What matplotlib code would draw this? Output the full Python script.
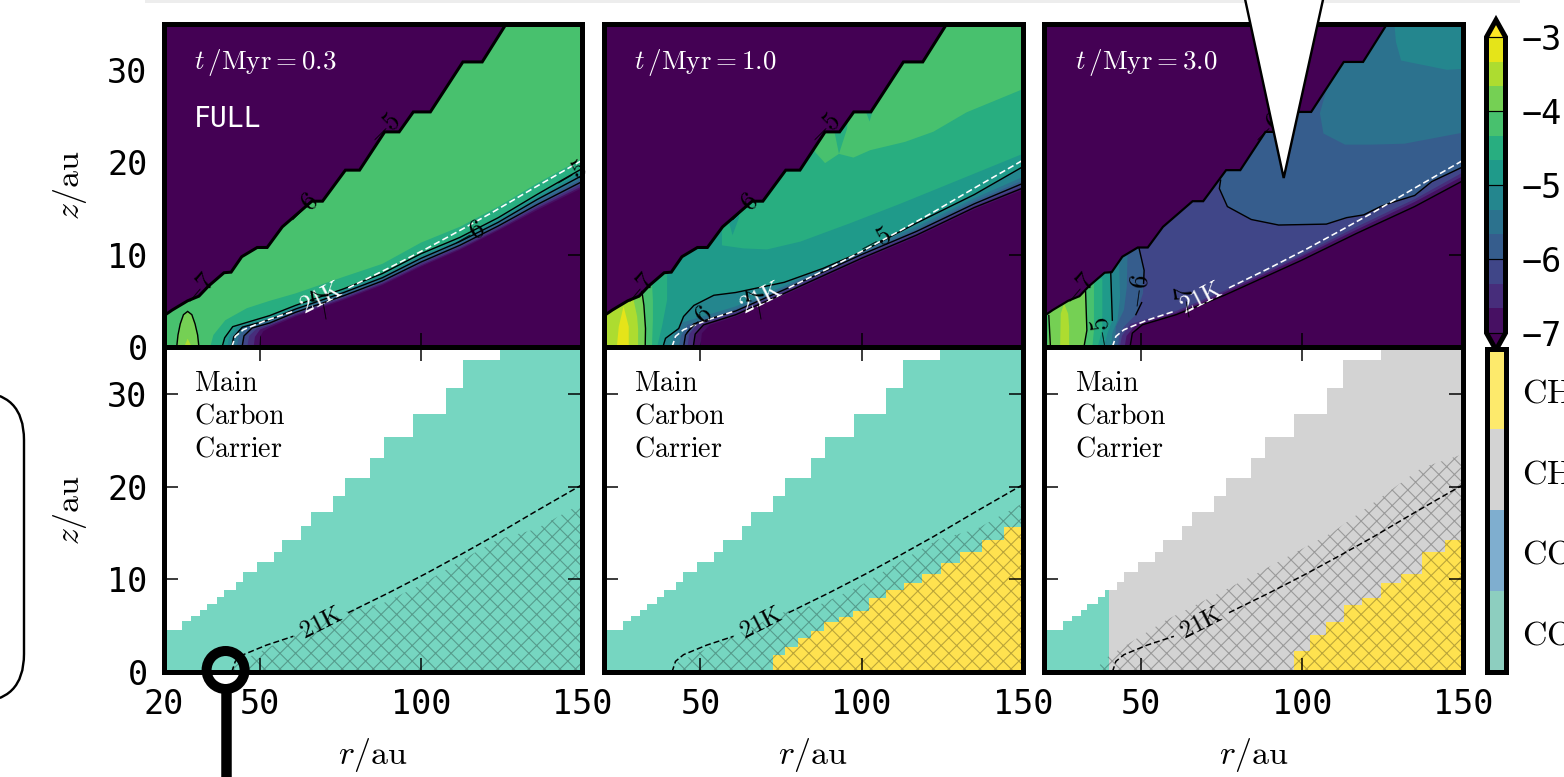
"""Abundance maps and main carbon carrier at three disk ages."""
import matplotlib
matplotlib.use("Agg")
import matplotlib.pyplot as plt
import numpy as np
from matplotlib.colors import BoundaryNorm, ListedColormap, Normalize
from matplotlib.patches import Circle, FancyBboxPatch, Polygon, Rectangle

W, H, DPI = 1564, 777, 140

TIMES = ["0.3", "1.0", "3.0"]
CARRIER_LINES = ["Main", "Carbon", "Carrier"]
CBAR_TICKS = [-7, -6, -5, -4, -3]
CARRIER_TICKS = ["CO", "CO", "CH", "CH"]
LEVELS = [-7 + i / 3 for i in range(13)]

TEAL, BLUE, GREY, YELLOW = "#76d6c1", "#7faecf", "#d3d3d3", "#ffe24f"
CBAR_COLORS = ["#8dcebf", "#7faecf", "#d3d3d3", "#fdea6c"]

# stair-shaped top of the model grid, bottom row (left cell edge, height)
STEP_R = [20, 20.8, 25.9, 28.6, 31.4, 33.4, 36.7, 38.8, 42.6, 44.7, 49.1, 54.3,
          56.9, 62.8, 65.8, 72.6, 76.4, 84.2, 88.6, 97.6, 107.7, 112.9, 124.5, 150]
STEP_Z = [3.85, 4.5, 5.54, 6.08, 6.73, 7.34, 8.09, 8.88, 9.71, 10.76, 11.83, 12.99,
          14.28, 15.79, 17.3, 19.03, 20.97, 23.06, 25.36, 27.88, 30.61, 33.7, 35, 35]

# the same edge as contoured in the top row
UPPER_R = [20, 20.45, 22.7, 27.5, 31, 34, 38.8, 41, 44.3, 49.1, 52.2, 56.9, 66.1, 69.4,
           76.5, 80.9, 88.7, 93.2, 97.6, 102.9, 113, 119, 126.5]
UPPER_Z = [3.4, 3.46, 4, 5, 5.5, 6.6, 8.04, 8.1, 9.77, 10.77, 10.77, 13, 15.78, 15.78,
           19.14, 19.14, 23.28, 23.28, 25.44, 25.44, 30.85, 30.85, 35]

T21_R = [41.2, 41.6, 42.3, 44.8, 52, 60.3, 77.4, 90, 101.7, 112, 122.3, 135, 150]
T21_Z = [0, 0.4, 1.15, 1.87, 2.9, 3.85, 6.4, 8.55, 10.65, 12.6, 14.6, 17.2, 20.2]
T21_SPLIT = 6

# panel 1 band boundaries, bottom to top
P1_TAIL_R = [53, 61, 76, 88, 100, 112, 124, 136, 150]
P1_TAIL_Z = [[2.1, 3.3, 5.1, 6.7, 8.7, 10.5, 12.6, 14.8, 17.2],
             [2.3, 3.45, 5.25, 6.85, 8.85, 10.65, 12.75, 15, 17.4],
             [2.45, 3.6, 5.4, 7.0, 9.05, 10.85, 12.95, 15.2, 17.65],
             [2.6, 3.75, 5.55, 7.15, 9.2, 11.0, 13.1, 15.4, 17.9],
             [2.75, 3.9, 5.7, 7.3, 9.4, 11.2, 13.3, 15.7, 18.2],
             [2.95, 4.1, 5.9, 7.5, 9.6, 11.4, 13.5, 15.95, 18.55],
             [3.15, 4.3, 6.1, 7.7, 9.85, 11.6, 13.75, 16.2, 18.9],
             [3.4, 4.5, 6.3, 7.95, 10.1, 11.85, 14.0, 16.5, 19.3],
             [5.0, 5.8, 7.6, 9.0, 11.3, 13.0, 15.2, 17.7, 20.4]]
P1_FOOT_R = [[49.8, 50, 51], [48, 48.4, 50], [46, 46.6, 49], [44.4, 45, 47.5], [42.8, 43.4, 46],
             [41.2, 41.8, 44.5], [39.8, 40.4, 43], [38.2, 39, 41.5], [34.5, 35.5, 39.2, 45.9]]
P1_FOOT_Z = [[0, 1.1, 1.7], [0, 1.1, 1.9], [0, 1.2, 2.0], [0, 1.2, 2.05], [0, 1.2, 2.1],
             [0, 1.1, 2.15], [0, 1.1, 2.2], [0, 1, 2.2], [0, 1.3, 2.9, 4.2]]
P1_VALUES = [-6.83, -6.5, -6.17, -5.83, -5.5, -5.17, -4.83, -4.5, -4.17]
P1_LINES = [7, 5, 3]
P1_SPOT_R = [24.1, 24.5, 25.2, 26.2, 27.5, 28.8, 29.8, 30.6, 31]
P1_SPOT_Z = [0, 1.3, 2.5, 3.5, 3.85, 3.5, 2.5, 1.3, 0]
P1_CORE_R = [26.4, 27.5, 28.8]
P1_CORE_Z = [0, 0.9, 0]

# panel 2
P2_TAIL_R = [61, 76, 88, 100, 117, 135, 150]
P2_TAIL_Z = [[3.3, 5.6, 7.5, 9.4, 11.9, 14.9, 17.0],
             [3.5, 5.8, 7.7, 9.6, 12.1, 15.1, 17.2],
             [3.7, 6.0, 7.9, 9.8, 12.3, 15.3, 17.4],
             [3.9, 6.2, 8.1, 10, 12.5, 15.5, 17.7],
             [4.1, 6.4, 8.3, 10.2, 12.7, 15.8, 18.0],
             [4.4, 6.6, 8.5, 10.5, 13, 16.1, 18.4],
             [5.9, 7, 8.5, 10.3, 13.4, 16.5, 19.5]]
P2_FOOT_R = [[50, 50.5, 53], [47.8, 48.4, 51], [46, 46.6, 49], [44.8, 45.4, 48], [43.3, 44, 46],
             [41.2, 41.8, 44], [38.4, 39.2, 43.3, 44.8, 48, 54.2]]
P2_FOOT_Z = [[0, 1.5, 2.4], [0, 1.4, 2.4], [0, 1.4, 2.4], [0, 1.3, 2.5], [0, 1.2, 2.4],
             [0, 1.2, 2.6], [0, 0.94, 2, 3.3, 4.5, 5.6]]
P2_VALUES = [-6.83, -6.5, -6.17, -5.83, -5.5, -5.17, -4.83]
P2_LINES = [6, 3, 1]
P2_MID_R = [56.7, 56.7, 63.4, 70.7, 81, 96.5, 112, 127.5, 150, 150, 62, 62, 60, 58.5]
P2_MID_Z = [14, 11, 10.67, 10.56, 11.4, 13.4, 15.5, 17.7, 20.9, 35, 35, 14, 12.1, 14]
P2_HIGH_A_R = [85.6, 88.7, 93, 91.2, 85.6]
P2_HIGH_A_Z = [21.1, 19.9, 20.9, 24, 24]
P2_HIGH_B_R = [93, 97.5, 102.7, 113.5, 122.3, 132.6, 150, 150, 106, 104.2, 102.5, 100.8, 96, 95.5]
P2_HIGH_B_Z = [20.9, 20.5, 21.3, 22.2, 23.3, 25.4, 27.9, 35, 35, 26.4, 24.4, 26, 25.4, 23.6]
P2_STRIPE_VALUES = [-4.5, -4.17, -3.83, -3.5]
P2_STRIPE_R = [[36.6, 38.1, 39.7, 39.7, 39.7], [35, 35.3, 35.3, 35, 35],
               [32.9, 33, 32.5, 32.2, 32.2], [30.7, 30.7, 30.4, 29.3, 29.3]]
P2_STRIPE_Z = [[0, 2.2, 5.1, 7.97, 12], [0, 3, 5, 7, 12], [0, 2, 4.5, 6, 12], [0, 2, 3.3, 5.1, 12]]
P2_CORE_R = [24.1, 24.7, 26.2, 27.8, 27.8]
P2_CORE_Z = [0, 2.2, 4.4, 2.2, 0]
P2_EDGE_STRIP_R = [20, 20.8, 20.8, 20]
P2_EDGE_STRIP_Z = [0, 0, 4, 4]
P2_LINE4_R = [32.9, 33, 32.5, 31.9]
P2_LINE4_Z = [0, 2, 4.5, 6]

# panel 3
P3_TAIL_R = [61, 76, 88, 100, 117, 135, 150]
P3_TAIL_Z = [[3.5, 5.6, 7.5, 9.4, 12.3, 15.2, 18.0],
             [3.7, 5.9, 7.8, 9.8, 12.7, 15.7, 18.5],
             [3.9, 6.1, 8.0, 10.0, 13.0, 16.0, 18.9]]
P3_FOOT_R = [[46.7, 47.4, 50.5], [45, 45.6, 48.5], [43.5, 44.2, 46.8]]
P3_FOOT_Z = [[0, 1.5, 2.4], [0, 1.2, 2.4], [0, 1.2, 2.5]]
P3_VALUES = [-6.83, -6.5, -6.17]
P3_BLUE_R = [74.8, 74.4, 76.9, 84.3, 92.8, 107.6, 113.9, 119.2, 124.4, 127.6, 135, 140.3, 150, 150, 74.8]
P3_BLUE_Z = [18.05, 17.15, 15.2, 13.8, 13.2, 13.3, 14, 14.3, 15.2, 15.6, 16.4, 17.9, 19.5, 35, 35]
P3_TOP1_R = [107.6, 105.6, 106.7, 113.4, 121.3, 131.8, 150, 150, 107.6]
P3_TOP1_Z = [27.8, 25.3, 23.1, 21.9, 21.9, 22, 23.2, 35, 35]
P3_TOP2_R = [128.7, 129.2, 130.8, 145, 150, 150, 128.7]
P3_TOP2_Z = [35, 33, 31, 30, 30.1, 35, 35]
P3_STRIPE_VALUES = [-5.83, -5.5, -5.17, -4.83, -4.5, -4.17, -3.83]
P3_STRIPE_R = [[43, 43.3, 44.8, 48.5, 50.7, 51.06, 49.5], [42, 42.3, 44.8, 45.7, 45.9],
               [40.9, 41.2, 42.8, 43.6, 43.3], [38.6, 39.7, 41.2, 40.7], [36.6, 38.1, 38.1],
               [35, 35.5, 35.5], [32.4, 33.3, 32.9]]
P3_STRIPE_Z = [[0, 1.3, 2.2, 3.5, 5.8, 8.3, 10.67], [0, 2.2, 4, 6.5, 9.9],
               [0, 1.5, 2.9, 5.4, 9.2], [0, 1.5, 2.9, 8.1], [0, 1.8, 7.4],
               [0, 1.8, 6.9], [0, 1.8, 6]]
P3_CORE_R = [25, 25.2, 26.2, 27.5, 27.8, 27.8]
P3_CORE_Z = [0, 3.6, 4.7, 3.6, 2.2, 0]
P3_STRIP_R = [20, 21.3, 21.5, 20]
P3_STRIP_Z = [0, 0, 3.7, 3.7]
P3_LINE_A_R = [49.5, 51.06, 50.9]
P3_LINE_A_Z = [10.67, 8.3, 6.9]
P3_LINE_B_R = [50.3, 48.5]
P3_LINE_B_Z = [4.8, 3.5]
P3_LINE_C_R = [40.7, 41.2]
P3_LINE_C_Z = [8.1, 2.9]
P3_LINE_D_R = [32.9, 33.3, 32.4]
P3_LINE_D_Z = [6, 1.8, 0]
P3_LINE_E_R = [21.5, 22]
P3_LINE_E_Z = [3.4, 0]

# hatched region, bottom row
HATCH_R = [40.5, 41.7, 52.4, 64.3, 76.2, 88.1, 100, 111.9, 123.8, 135.6, 150]
HATCH_Z = [0, 0.8, 2.6, 4.6, 6.5, 7.4, 9.4, 11.9, 14.3, 15.4, 18.2]
HATCH3_R = [34, 36.3, 40, 57.9, 84.3, 109.7, 137.1, 150]
HATCH3_Z = [0, 0.4, 1.7, 5.6, 10.3, 15.1, 22, 23.5]

# yellow cells, bottom row
Y2_R = [72.7, 76.3, 80.3, 84.3, 88.4, 92.9, 97.5, 102.4, 107.5, 113.1, 118.7, 124.7, 130.7, 137.3, 144.3, 150]
Y2_Z = [1.87, 2.7, 3.67, 4.39, 5.4, 5.97, 6.62, 7.99, 8.81, 9.6, 10.6, 11.76, 12.9, 14.2, 15.65, 15.65]
Y3_R = [97.6, 102.5, 107.6, 113, 118.6, 124.7, 130.8, 137.4, 144.5, 150]
Y3_Z = [2.23, 4, 5.4, 7.27, 7.99, 9.6, 10.6, 12.9, 14.2, 14.2]
TEAL3_END = 40.3

# contour labels: text, r, z, rotation
P1_LABELS = [("-5", 88.7, 23.6, 45), ("-6", 63.1, 15, 45), ("-7", 31, 6.3, 50),
             ("-6", 114.8, 12.1, 30), ("-5", 146.3, 18.6, 30), ("-7", 69.6, 4.7, 100)]
P2_LABELS = [("-5", 88.7, 23.6, 45), ("-6", 63.1, 15, 45), ("-7", 31, 6.3, 50),
             ("-6", 49, 2.7, 45), ("-5", 104.2, 11.4, 28), ("-7", 68, 4.7, 100)]
P3_LABELS = [("-6", 89.5, 23.6, 45), ("-7", 31, 6.3, 50), ("-6", 49.5, 6, 82),
             ("-5", 38.1, 1.5, 100), ("-7", 64.3, 4.9, 100)]

WEDGE_X = [1244.6, 1283.7, 1323.6]
WEDGE_Y = [-3, 178, -3]
RING_XY = (225.6, 670)
STEM_X = 225.5


def px(value):
    return value * 72 / DPI


def band(value):
    return plt.cm.viridis(Normalize(-7, -3)(value))


def place(fig, x0, y0, x1, y1):
    return fig.add_axes([x0 / W, 1 - y1 / H, (x1 - x0) / W, (y1 - y0) / H])


def style_panel(ax, show_x, show_y, first):
    ax.set_xlim(20, 150)
    ax.set_ylim(0, 35)
    ax.set_yticks([0, 10, 20, 30])
    ax.set_xticks([20, 50, 100, 150] if first else [50, 100, 150])
    ax.tick_params(direction="in", top=True, right=True, length=px(14), width=px(1.5),
                   pad=px(16), labelsize=px(33.5), labelbottom=show_x, labelleft=show_y)
    for s in ax.spines.values():
        s.set_linewidth(px(5))
        s.set_zorder(20)
    for lab in ax.get_xticklabels() + ax.get_yticklabels():
        lab.set_family("DejaVu Sans Mono")


def fill_above(ax, r, z, value):
    # everything above a boundary curve, painted bottom band first
    ax.fill(list(r) + [150, 20, 20], list(z) + [35, 35, 0], color=band(value), lw=0, zorder=2)


def curve(foot_r, foot_z, tail_r, tail_z):
    return list(foot_r) + list(tail_r), list(foot_z) + list(tail_z)


def fill_left(ax, r, z, value):
    ax.fill(list(r) + [20, 20], list(z) + [z[-1], 0], color=band(value), lw=0, zorder=3)


def finish_top(ax, t, labels, edge_lw):
    ax.fill(UPPER_R + [20], UPPER_Z + [35], color=band(-8), lw=0, zorder=5)
    ax.plot(UPPER_R, UPPER_Z, color="k", lw=px(edge_lw), zorder=6, solid_joinstyle="miter")
    ax.plot(T21_R[:T21_SPLIT], T21_Z[:T21_SPLIT], color="w", lw=px(1.6), dashes=(4, 2), zorder=8)
    ax.plot(T21_R[T21_SPLIT:], T21_Z[T21_SPLIT:], color="w", lw=px(1.6), dashes=(4, 2), zorder=8)
    ax.text(68.9, 5.3, r"$21\mathrm{K}$", color="w", fontsize=px(25), rotation=27,
            ha="center", va="center", zorder=9)
    for text, r, z, rot in labels:
        ax.text(r, z, "$" + text + "$", color="k", fontsize=px(27), rotation=rot,
                ha="center", va="center", zorder=9)
    ax.text(29.5, 30.8, rf"$t\,/\mathrm{{Myr}}={t}$", color="w", fontsize=px(27), va="center", zorder=9)


def draw_top1(ax):
    ax.set_facecolor(band(-8))
    rows = []
    for foot_r, foot_z, tail_z, value in zip(P1_FOOT_R, P1_FOOT_Z, P1_TAIL_Z, P1_VALUES):
        r, z = curve(foot_r, foot_z, P1_TAIL_R, tail_z)
        fill_above(ax, r, z, value)
        rows.append((r, z))
    for i in P1_LINES:
        ax.plot(rows[i][0], rows[i][1], color="k", lw=px(1.4), zorder=7)
    ax.fill(P1_SPOT_R, P1_SPOT_Z, facecolor=band(-3.83), edgecolor="k", lw=px(1.4), zorder=4)
    ax.fill(P1_CORE_R, P1_CORE_Z, color=band(-3.5), lw=0, zorder=4)
    finish_top(ax, TIMES[0], P1_LABELS, 3)
    ax.text(29.5, 24.7, "FULL", color="w", fontsize=px(28), family="DejaVu Sans Mono", va="center", zorder=9)


def draw_top2(ax):
    ax.set_facecolor(band(-8))
    rows = []
    for foot_r, foot_z, tail_z, value in zip(P2_FOOT_R, P2_FOOT_Z, P2_TAIL_Z, P2_VALUES):
        r, z = curve(foot_r, foot_z, P2_TAIL_R, tail_z)
        fill_above(ax, r, z, value)
        rows.append((r, z))
    ax.fill(P2_MID_R, P2_MID_Z, color=band(-4.5), lw=0, zorder=2.5)
    ax.fill(P2_HIGH_A_R, P2_HIGH_A_Z, color=band(-4.17), lw=0, zorder=2.6)
    ax.fill(P2_HIGH_B_R, P2_HIGH_B_Z, color=band(-4.17), lw=0, zorder=2.6)
    for r, z, value in zip(P2_STRIPE_R, P2_STRIPE_Z, P2_STRIPE_VALUES):
        fill_left(ax, r, z, value)
    ax.fill(P2_EDGE_STRIP_R, P2_EDGE_STRIP_Z, color=band(-3.83), lw=0, zorder=4)
    ax.fill(P2_CORE_R, P2_CORE_Z, color=band(-3.17), lw=0, zorder=4)
    ax.plot(P2_LINE4_R, P2_LINE4_Z, color="k", lw=px(1.4), zorder=7)
    for i in P2_LINES:
        ax.plot(rows[i][0], rows[i][1], color="k", lw=px(1.4), zorder=7)
    finish_top(ax, TIMES[1], P2_LABELS, 3)


def draw_top3(ax):
    ax.set_facecolor(band(-8))
    rows = []
    for foot_r, foot_z, tail_z, value in zip(P3_FOOT_R, P3_FOOT_Z, P3_TAIL_Z, P3_VALUES):
        r, z = curve(foot_r, foot_z, P3_TAIL_R, tail_z)
        fill_above(ax, r, z, value)
        rows.append((r, z))
    ax.fill(P3_BLUE_R, P3_BLUE_Z, color=band(-5.83), lw=0, zorder=2.5)
    ax.fill(P3_TOP1_R, P3_TOP1_Z, color=band(-5.5), lw=0, zorder=2.6)
    ax.fill(P3_TOP2_R, P3_TOP2_Z, color=band(-5.17), lw=0, zorder=2.7)
    ax.plot(P3_BLUE_R[:13], P3_BLUE_Z[:13], color="k", lw=px(1.4), zorder=7)
    for r, z, value in zip(P3_STRIPE_R, P3_STRIPE_Z, P3_STRIPE_VALUES):
        fill_left(ax, r, z, value)
    ax.fill(P3_CORE_R, P3_CORE_Z, color=band(-3.5), lw=0, zorder=4)
    ax.fill(P3_STRIP_R, P3_STRIP_Z, color=band(-4.17), lw=0, zorder=4)
    for r, z in [(P3_LINE_A_R, P3_LINE_A_Z), (P3_LINE_B_R, P3_LINE_B_Z), (P3_LINE_C_R, P3_LINE_C_Z),
                 (P3_LINE_D_R, P3_LINE_D_Z), (P3_LINE_E_R, P3_LINE_E_Z), rows[0]]:
        ax.plot(r, z, color="k", lw=px(1.4), zorder=7)
    finish_top(ax, TIMES[2], P3_LABELS, 2.2)


def draw_bottom(ax, panel):
    step_r, step_z = np.array(STEP_R), np.array(STEP_Z)
    if panel < 2:
        ax.fill_between(step_r, 0, step_z, step="post", color=TEAL, lw=0, zorder=1)
    else:
        ax.fill_between(step_r, 0, step_z, step="post", color=GREY, lw=0, zorder=1)
        keep = step_r < TEAL3_END
        r = np.append(step_r[keep], TEAL3_END)
        z = np.append(step_z[keep], step_z[keep][-1])
        ax.fill_between(r, 0, z, step="post", color=TEAL, lw=0, zorder=1.1)
        ax.fill_between([20, 20.7], 0, 1.9, color=GREY, lw=0, zorder=1.2)
    if panel == 1:
        ax.fill_between(Y2_R, 0, Y2_Z, step="post", color=YELLOW, lw=0, zorder=1.3)
    if panel == 2:
        ax.fill_between(Y3_R, 0, Y3_Z, step="post", color=YELLOW, lw=0, zorder=1.3)
    hr, hz = (HATCH3_R, HATCH3_Z) if panel == 2 else (HATCH_R, HATCH_Z)
    ax.add_patch(Polygon(list(zip(hr + [150], hz + [0])), closed=True, facecolor="none",
                         edgecolor=(0, 0, 0, 0.27), hatch="xxx", lw=0, zorder=2))
    ax.plot(T21_R[:T21_SPLIT], T21_Z[:T21_SPLIT], color="k", lw=px(1.5), dashes=(4, 2), zorder=5)
    ax.plot(T21_R[T21_SPLIT:], T21_Z[T21_SPLIT:], color="k", lw=px(1.5), dashes=(4, 2), zorder=5)
    ax.text(68.9, 5.3, r"$21\mathrm{K}$", color="k", fontsize=px(25), rotation=27,
            ha="center", va="center", zorder=6)
    for line, z in zip(CARRIER_LINES, [31.2, 27.7, 24.1]):
        ax.text(29.5, z, rf"$\mathrm{{{line}}}$", color="k", fontsize=px(28), va="center", zorder=6)
    ax.set_xlabel(r"$r/\mathrm{au}$", fontsize=px(34), labelpad=px(15))


def draw_colorbars(fig):
    cax = place(fig, 1486.5, 20, 1505.5, 350)
    mids = [(a + b) / 2 for a, b in zip(LEVELS[:-1], LEVELS[1:])]
    cmap = ListedColormap([band(m) for m in mids])
    cmap.set_under(band(-8))
    cmap.set_over(band(-2))
    sm = plt.cm.ScalarMappable(norm=BoundaryNorm(LEVELS, cmap.N), cmap=cmap)
    cb = fig.colorbar(sm, cax=cax, extend="both", extendfrac=0.0575, ticks=CBAR_TICKS, drawedges=False)
    cb.outline.set_linewidth(px(5))
    cb.ax.tick_params(direction="in", length=px(19), width=px(1.2), pad=px(16), labelsize=px(33.5))
    cb.ax.minorticks_off()
    cb.set_ticklabels(["\u2212" + str(abs(t)) for t in CBAR_TICKS])
    for lab in cb.ax.get_yticklabels():
        lab.set_family("DejaVu Sans Mono")

    bax = place(fig, 1486.5, 349, 1505.5, 672)
    bmap = ListedColormap(CBAR_COLORS)
    bax.imshow(np.arange(4).reshape(-1, 1), cmap=bmap, origin="lower", aspect="auto",
               extent=[0, 1, 0, 4], interpolation="nearest")
    bax.set_xticks([])
    bax.yaxis.tick_right()
    bax.set_yticks([0.5, 1.5, 2.5, 3.5])
    bax.set_yticklabels([rf"$\mathrm{{{t}}}$" for t in CARRIER_TICKS], fontsize=px(34))
    bax.tick_params(length=0, pad=px(17))
    for s in bax.spines.values():
        s.set_linewidth(px(5))


def draw_overlay(fig):
    ov = fig.add_axes([0, 0, 1, 1], zorder=50)
    ov.set_xlim(0, W)
    ov.set_ylim(H, 0)
    ov.axis("off")
    ov.patch.set_alpha(0)
    ov.add_patch(Rectangle((145, 0), 1375, 3, facecolor="#ededed", lw=0))
    ov.add_patch(Polygon(list(zip(WEDGE_X, WEDGE_Y)), closed=False, facecolor="w", edgecolor="k",
                         lw=px(2.4), joinstyle="miter"))
    ov.add_patch(FancyBboxPatch((-120, 392), 144, 310, boxstyle="round,pad=0,rounding_size=48",
                                facecolor="w", edgecolor="k", lw=px(2.4)))
    ov.add_patch(Circle(RING_XY, 19, facecolor="none", edgecolor="k", lw=px(10)))
    ov.plot([STEM_X, STEM_X], [690, H + 5], color="k", lw=px(10.5), solid_capstyle="butt")


def main():
    plt.rcParams.update({
        "mathtext.fontset": "cm",
        "hatch.linewidth": px(1.1),
        "font.family": "DejaVu Sans Mono",
    })
    fig = plt.figure(figsize=(W / DPI, H / DPI), dpi=DPI, facecolor="w")
    lefts = [163.5, 603.6, 1044]
    rights = [582, 1022.7, 1463]
    tops = [place(fig, l, 23.6, r, 347) for l, r in zip(lefts, rights)]
    bottoms = [place(fig, l, 347.5, r, 672) for l, r in zip(lefts, rights)]
    for i, (top, bot) in enumerate(zip(tops, bottoms)):
        style_panel(top, False, i == 0, i == 0)
        style_panel(bot, True, i == 0, i == 0)
    draw_top1(tops[0])
    draw_top2(tops[1])
    draw_top3(tops[2])
    for i, bot in enumerate(bottoms):
        draw_bottom(bot, i)
    for ax in (tops[0], bottoms[0]):
        ax.set_ylabel(r"$z/\mathrm{au}$", fontsize=px(34), labelpad=px(18))
    draw_colorbars(fig)
    draw_overlay(fig)
    fig.savefig("out.png", dpi=DPI)


if __name__ == "__main__":
    main()
